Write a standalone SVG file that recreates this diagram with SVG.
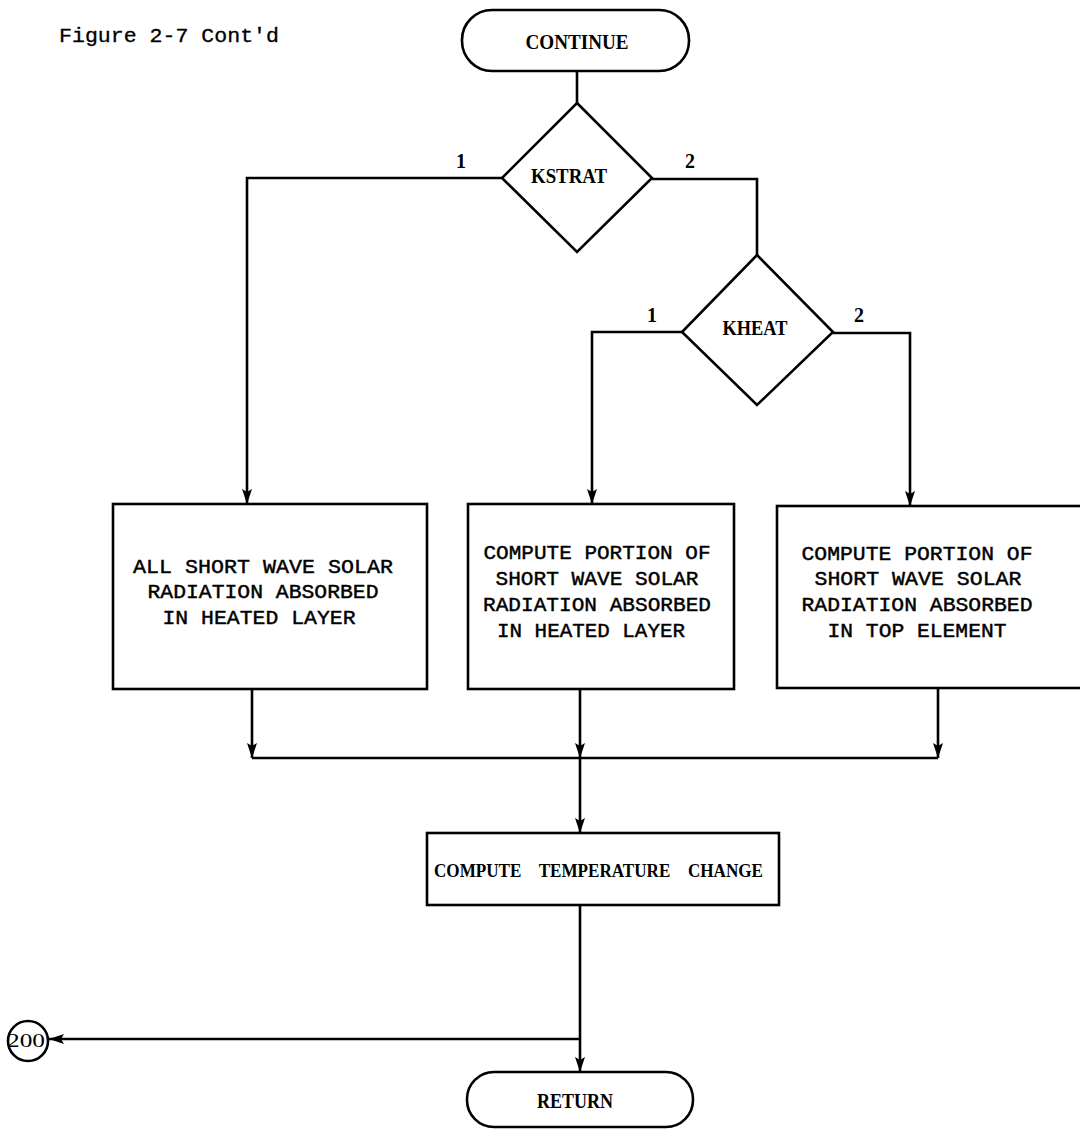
<svg xmlns="http://www.w3.org/2000/svg" width="1080" height="1129" viewBox="0 0 1080 1129">
  <defs>
    <marker id="arr" markerUnits="userSpaceOnUse" markerWidth="16" markerHeight="12" refX="15" refY="5" orient="auto">
      <path d="M0,0 L15,5 L0,10 L3,5 z" fill="#000"/>
    </marker>
    <style>
      .shape { fill: #fff; stroke: #000; stroke-width: 2.6; }
      .conn { fill: none; stroke: #000; stroke-width: 2.6; }
      .mono { font-family: "Liberation Mono", "Courier New", monospace; font-size: 21px; fill: #000; stroke: #000; stroke-width: 0.45; }
      .serif { font-family: "Liberation Serif", "Times New Roman", serif; font-size: 20px; font-weight: bold; fill: #000; }
      .lbl { font-family: "Liberation Serif", "Times New Roman", serif; font-size: 20px; font-weight: bold; fill: #000; text-anchor: middle; }
    </style>
  </defs>
  <rect width="1080" height="1129" fill="#fff"/>

  <text x="59" y="42" class="mono" style="font-size:20px;stroke-width:0.3" textLength="220" lengthAdjust="spacingAndGlyphs">Figure 2-7 Cont'd</text>

  <g id="connectors">
    <path class="conn" d="M577,71 V103"/>
    <path class="conn" d="M502,178 H247 V504" marker-end="url(#arr)"/>
    <path class="conn" d="M652,179 H757 V255"/>
    <path class="conn" d="M682,332 H592 V504" marker-end="url(#arr)"/>
    <path class="conn" d="M833,333 H910 V506" marker-end="url(#arr)"/>
    <path class="conn" d="M252,689 V758" marker-end="url(#arr)"/>
    <path class="conn" d="M580,689 V758" marker-end="url(#arr)"/>
    <path class="conn" d="M938,688 V758" marker-end="url(#arr)"/>
    <path class="conn" d="M252,758 H938"/>
    <path class="conn" d="M580,758 V833" marker-end="url(#arr)"/>
    <path class="conn" d="M580,905 V1072" marker-end="url(#arr)"/>
    <path class="conn" d="M580,1039 H49" marker-end="url(#arr)"/>
    <text class="lbl" x="461" y="168">1</text>
    <text class="lbl" x="690" y="168">2</text>
    <text class="lbl" x="652" y="322">1</text>
    <text class="lbl" x="859" y="322">2</text>
  </g>

  <g id="continue">
    <rect class="shape" x="462" y="10" width="227" height="61" rx="30" ry="30"/>
    <text class="serif" x="577" y="49" text-anchor="middle" textLength="103" lengthAdjust="spacingAndGlyphs">CONTINUE</text>
  </g>

  <g id="kstrat">
    <polygon class="shape" points="577,103 652,178 577,252 502,178"/>
    <text class="serif" x="569" y="183" text-anchor="middle" textLength="76" lengthAdjust="spacingAndGlyphs">KSTRAT</text>
  </g>

  <g id="kheat">
    <polygon class="shape" points="757,255 833,332 757,405 682,332"/>
    <text class="serif" x="755" y="335" text-anchor="middle" textLength="65" lengthAdjust="spacingAndGlyphs">KHEAT</text>
  </g>

  <g id="box-all">
    <rect class="shape" x="113" y="504" width="314" height="185"/>
    <text class="mono" x="263" y="573" text-anchor="middle" textLength="260" lengthAdjust="spacingAndGlyphs">ALL SHORT WAVE SOLAR</text>
    <text class="mono" x="263" y="598" text-anchor="middle" textLength="231" lengthAdjust="spacingAndGlyphs">RADIATION ABSORBED</text>
    <text class="mono" x="259" y="624" text-anchor="middle" textLength="193" lengthAdjust="spacingAndGlyphs">IN HEATED LAYER</text>
  </g>

  <g id="box-heated">
    <rect class="shape" x="468" y="504" width="266" height="185"/>
    <text class="mono" x="597" y="559" text-anchor="middle" textLength="227" lengthAdjust="spacingAndGlyphs">COMPUTE PORTION OF</text>
    <text class="mono" x="597" y="585" text-anchor="middle" textLength="203" lengthAdjust="spacingAndGlyphs">SHORT WAVE SOLAR</text>
    <text class="mono" x="597" y="611" text-anchor="middle" textLength="228" lengthAdjust="spacingAndGlyphs">RADIATION ABSORBED</text>
    <text class="mono" x="591" y="637" text-anchor="middle" textLength="188" lengthAdjust="spacingAndGlyphs">IN HEATED LAYER</text>
  </g>

  <g id="box-top">
    <rect class="shape" x="777" y="506" width="310" height="182"/>
    <text class="mono" x="917" y="560" text-anchor="middle" textLength="231" lengthAdjust="spacingAndGlyphs">COMPUTE PORTION OF</text>
    <text class="mono" x="918" y="585" text-anchor="middle" textLength="207" lengthAdjust="spacingAndGlyphs">SHORT WAVE SOLAR</text>
    <text class="mono" x="917" y="611" text-anchor="middle" textLength="231" lengthAdjust="spacingAndGlyphs">RADIATION ABSORBED</text>
    <text class="mono" x="917" y="637" text-anchor="middle" textLength="179" lengthAdjust="spacingAndGlyphs">IN TOP ELEMENT</text>
  </g>

  <g id="compute-temp">
    <rect class="shape" x="427" y="833" width="352" height="72"/>
    <text class="serif" x="434" y="877" style="font-size:18px;word-spacing:14px" textLength="329" lengthAdjust="spacingAndGlyphs">COMPUTE TEMPERATURE CHANGE</text>
  </g>

  <g id="return">
    <rect class="shape" x="467" y="1072" width="226" height="55" rx="27" ry="27"/>
    <text class="serif" x="575" y="1108" text-anchor="middle" textLength="76" lengthAdjust="spacingAndGlyphs">RETURN</text>
  </g>

  <g id="connector-200">
    <circle class="shape" cx="28" cy="1041" r="20"/>
    <text class="serif" x="26" y="1047" text-anchor="middle" style="font-weight:normal;font-size:19px" textLength="38" lengthAdjust="spacingAndGlyphs">200</text>
  </g>
</svg>
